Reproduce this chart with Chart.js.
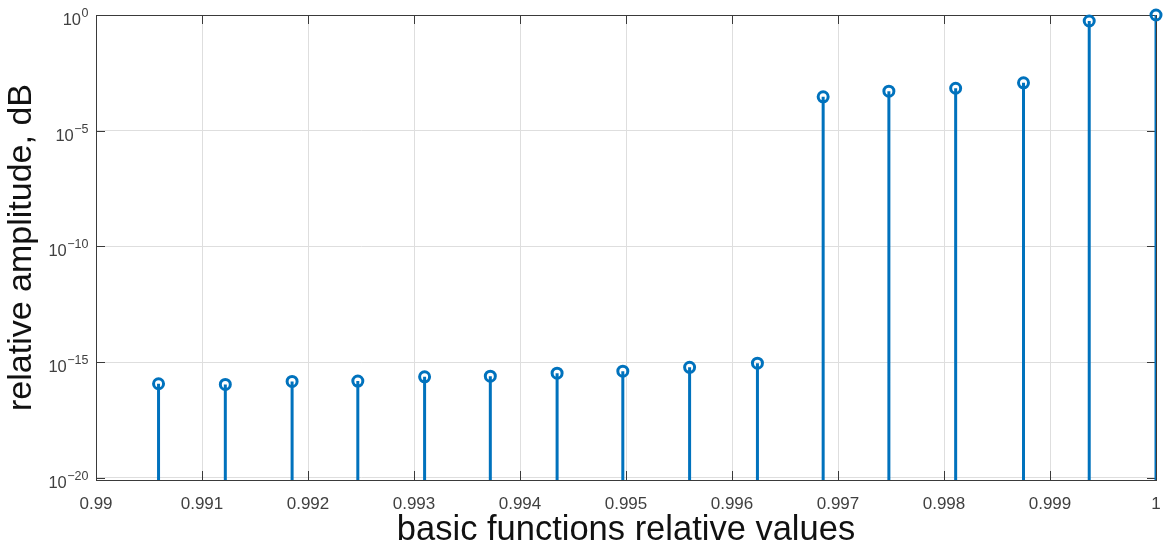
<!DOCTYPE html>
<html>
<head>
<meta charset="utf-8">
<title>Relative amplitude of basic functions</title>
<script src="https://cdn.jsdelivr.net/npm/chart.js@4.4.1/dist/chart.umd.min.js"></script>
<style>
  html, body { margin: 0; padding: 0; background: #ffffff; }
  #wrap { width: 1164px; height: 549px; }
</style>
</head>
<body>
<div id="wrap"><canvas id="chart" width="1164" height="549"></canvas></div>
<script>
// Basic function relative values (x) and their relative amplitudes (y)
const basisValues = [
  0.99059, 0.99122, 0.99185, 0.99247, 0.99310, 0.99372, 0.99435, 0.99497,
  0.99560, 0.99624, 0.99686, 0.99748, 0.99811, 0.99875, 0.99937, 1.00000
];
const amplitudes = [
  1.15e-16, 1.07e-16, 1.45e-16, 1.5e-16, 2.3e-16, 2.45e-16, 3.3e-16, 4.0e-16,
  5.9e-16, 8.9e-16, 2.9e-4, 5.1e-4, 6.8e-4, 1.17e-3, 0.55, 1.0
];

// Axis ticks
const xTickValues = [0.99, 0.991, 0.992, 0.993, 0.994, 0.995, 0.996, 0.997, 0.998, 0.999, 1.0];
const xTickLabels = ['0.99', '0.991', '0.992', '0.993', '0.994', '0.995', '0.996', '0.997', '0.998', '0.999', '1'];
const yTickExponents = [-20, -15, -10, -5, 0];

const Y_MIN = Math.pow(10, -20.1);
const Y_MAX = 1;

const STEM_COLOR = '#0072BD';
const AXIS_COLOR = '#3a3a3a';
const TICK_TEXT = '#404040';
const GRID_COLOR = '#dedede';
const FONT = '"Liberation Sans", Arial, Helvetica, sans-serif';

// Stems: a vertical segment from the bottom of the axis to each point, separated by gaps
const stemPoints = [];
basisValues.forEach((x, i) => {
  stemPoints.push({ x: x, y: Y_MIN });
  stemPoints.push({ x: x, y: amplitudes[i] });
  stemPoints.push({ x: x, y: null });
});
const markerPoints = basisValues.map((x, i) => ({ x: x, y: amplitudes[i] }));

// Box around the plot area with inward tick marks on all four sides,
// plus power-of-ten labels (base and raised exponent) on the log axis
const framePlugin = {
  id: 'frame',
  beforeDatasetsDraw(chart) {
    const { ctx, chartArea: a, scales } = chart;
    const len = 9;
    ctx.save();
    ctx.strokeStyle = AXIS_COLOR;
    ctx.lineWidth = 1;
    ctx.beginPath();
    xTickValues.forEach(v => {
      const px = Math.round(scales.x.getPixelForValue(v)) + 0.5;
      ctx.moveTo(px, a.bottom); ctx.lineTo(px, a.bottom - len);
      ctx.moveTo(px, a.top); ctx.lineTo(px, a.top + len);
    });
    yTickExponents.forEach(e => {
      const py = Math.round(scales.y.getPixelForValue(Math.pow(10, e))) + 0.5;
      ctx.moveTo(a.left, py); ctx.lineTo(a.left + len, py);
      ctx.moveTo(a.right, py); ctx.lineTo(a.right - len, py);
    });
    ctx.stroke();
    ctx.strokeRect(Math.round(a.left) + 0.5, Math.round(a.top) + 0.5,
      Math.round(a.right - a.left), Math.round(a.bottom - a.top));

    // y tick labels: "10" with the exponent as a superscript
    ctx.fillStyle = TICK_TEXT;
    ctx.textBaseline = 'alphabetic';
    ctx.textAlign = 'left';
    const right = a.left - 8;
    yTickExponents.forEach(e => {
      const py = scales.y.getPixelForValue(Math.pow(10, e));
      const expText = e < 0 ? '\u2212' + Math.abs(e) : String(e);
      ctx.font = '12.5px ' + FONT;
      const expW = ctx.measureText(expText).width;
      ctx.font = '16.5px ' + FONT;
      const baseW = ctx.measureText('10').width;
      const x0 = right - expW - baseW;
      ctx.fillText('10', x0, py + 10);
      ctx.font = '12.5px ' + FONT;
      ctx.fillText(expText, x0 + baseW + 0.5, py + 2);
    });
    ctx.restore();
  }
};

new Chart(document.getElementById('chart'), {
  type: 'scatter',
  data: {
    datasets: [
      {
        type: 'line',
        data: stemPoints,
        borderColor: STEM_COLOR,
        borderWidth: 3,
        pointRadius: 0,
        spanGaps: false,
        fill: false,
        order: 2
      },
      {
        type: 'scatter',
        data: markerPoints,
        borderColor: STEM_COLOR,
        backgroundColor: 'rgba(0,0,0,0)',
        pointRadius: 5,
        pointBorderWidth: 3,
        clip: false,
        order: 1
      }
    ]
  },
  options: {
    responsive: false,
    devicePixelRatio: 1,
    animation: false,
    layout: { padding: { left: 0, top: 15, right: 7, bottom: 0 } },
    plugins: {
      legend: { display: false },
      tooltip: { enabled: false }
    },
    scales: {
      x: {
        type: 'linear',
        min: 0.99,
        max: 1.0,
        afterBuildTicks: s => { s.ticks = xTickValues.map(v => ({ value: v })); },
        afterFit: s => { s.height = 69; s.paddingLeft = 0; s.paddingRight = 0; },
        ticks: {
          autoSkip: false,
          maxRotation: 0,
          padding: 14,
          color: TICK_TEXT,
          font: { family: FONT, size: 17 },
          callback: (v, i) => xTickLabels[i]
        },
        grid: { color: GRID_COLOR, drawTicks: false, lineWidth: 1 },
        border: { display: true, color: AXIS_COLOR, width: 1 },
        title: {
          display: true,
          text: 'basic functions relative values',
          color: '#111111',
          font: { family: FONT, size: 34.5, lineHeight: 1.1 },
          padding: 0
        }
      },
      y: {
        type: 'logarithmic',
        min: Y_MIN,
        max: Y_MAX,
        afterBuildTicks: s => { s.ticks = yTickExponents.map(e => ({ value: Math.pow(10, e) })); },
        afterFit: s => { s.width = 96; s.paddingTop = 0; s.paddingBottom = 0; },
        ticks: { display: false },
        grid: { color: GRID_COLOR, drawTicks: false, lineWidth: 1 },
        border: { display: true, color: AXIS_COLOR, width: 1 },
        title: {
          display: true,
          text: 'relative amplitude, dB',
          color: '#111111',
          font: { family: FONT, size: 34, lineHeight: 1.15 },
          padding: { top: 2, bottom: 0 }
        }
      }
    }
  },
  plugins: [framePlugin]
});
</script>
</body>
</html>
